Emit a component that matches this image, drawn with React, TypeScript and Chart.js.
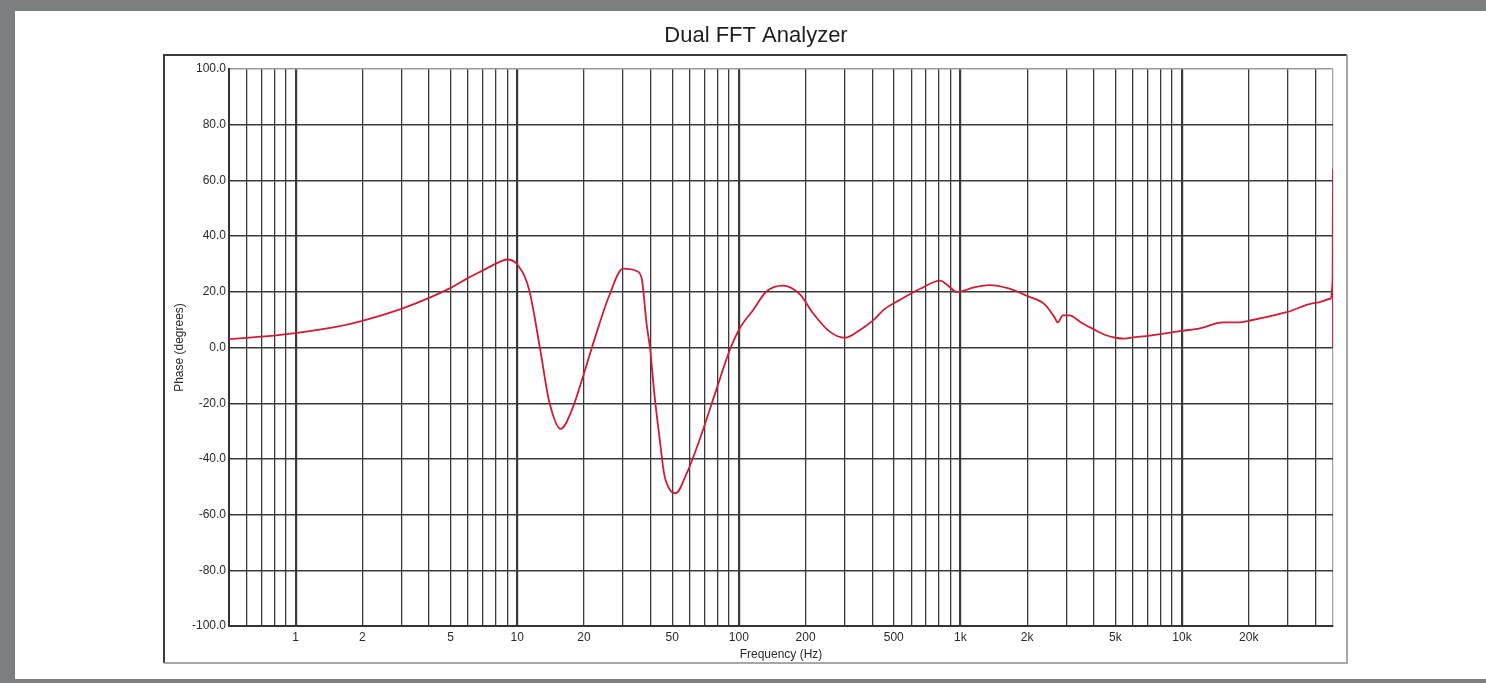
import React, { useEffect, useRef } from 'react';
import { Chart, registerables } from 'chart.js';

Chart.register(...registerables);

// Measured phase response (frequency in Hz, phase in degrees)
const freqHz = [
  0.5, 0.7, 1, 1.5, 2, 3, 4, 5, 6, 7, 8, 9, 10, 11.3, 12.7, 13.9, 15.7, 17.6, 20, 22.5, 25.9,
  30, 34.7, 36.5, 38.3, 39.8, 41.7, 44, 46, 48.6, 51.9, 58, 66.3, 79, 91, 101, 116, 133, 158,
  189, 216, 257, 301, 352, 406, 450, 533, 655, 812, 867, 968, 1150, 1350, 1650, 2000, 2400, 2650,
  2750, 2900, 3100, 3500, 4000, 4500, 5000, 5500, 6000, 7000, 10000, 12050, 15300, 18200,
  20000, 30000, 40000, 46600, 47800, 47990, 48000,
];
const phaseDeg = [
  3.0, 3.9, 5.2, 7.3, 9.6, 13.9, 17.8, 21.4, 25.0, 27.7, 30.1, 31.6, 29.8, 20.8, -0.9, -19, -29.2,
  -22.6, -9.3, 3.9, 18.3, 28.3, 27.4, 24.4, 8.7, -0.9, -17.8, -33.4, -45.4, -50.8, -52.3, -45.4,
  -33.4, -15.3, -0.9, 6.9, 13.5, 20.1, 22.2, 19, 12.3, 5.7, 3.5, 6.3, 9.9, 13.5, 17.1, 21, 24.0,
  22.6, 19.9, 21.6, 22.4, 21.2, 18.5, 15.5, 11, 9, 11.5, 11.5, 9, 6.5, 4.5, 3.5, 3.2, 3.6, 4.2, 6.0, 6.9,
  9.0, 9.0, 9.6, 12.8, 16, 17.5, 25, 64, 0,
];

// Axis definitions
const xMin = 0.5;
const xMax = 48000;
const xMantissas = [1, 2, 3, 4, 5, 6, 7, 8, 9];
const xDecades = [0.1, 1, 10, 100, 1000, 10000];
const xLabelValues = [1, 2, 5, 10, 20, 50, 100, 200, 500, 1000, 2000, 5000, 10000, 20000];
const xLabelTexts = ['1', '2', '5', '10', '20', '50', '100', '200', '500', '1k', '2k', '5k', '10k', '20k'];
const yTickValues = [-100, -80, -60, -40, -20, 0, 20, 40, 60, 80, 100];

const FONT = "Arial, 'Liberation Sans', Helvetica, sans-serif";

function buildXGrid(): number[] {
  const out: number[] = [];
  xDecades.forEach((d) => {
    xMantissas.forEach((m) => {
      const v = +(m * d).toPrecision(6);
      if (v > xMin && v < xMax) out.push(v);
    });
  });
  out.push(xMax);
  return out;
}

const isDecade = (v: number) => {
  const l = Math.log10(v);
  return Math.abs(l - Math.round(l)) < 1e-6;
};

const framePlugin = {
  id: 'pageFrame',
  beforeDraw(chart: any) {
    const ctx = chart.ctx;
    ctx.save();
    ctx.lineWidth = 2;
    ctx.strokeStyle = '#3c3c3c';
    ctx.beginPath();
    ctx.moveTo(164, 663);
    ctx.lineTo(164, 55);
    ctx.lineTo(1347, 55);
    ctx.stroke();
    ctx.strokeStyle = '#8a8a8a';
    ctx.lineWidth = 1.5;
    ctx.beginPath();
    ctx.moveTo(1347, 55);
    ctx.lineTo(1347, 663);
    ctx.lineTo(164, 663);
    ctx.stroke();
    ctx.restore();
  },
  afterDraw(chart: any) {
    const ctx = chart.ctx;
    ctx.save();
    ctx.fillStyle = '#1e1e1e';
    ctx.font = `22px ${FONT}`;
    ctx.textAlign = 'center';
    ctx.textBaseline = 'middle';
    ctx.fillText('Dual FFT Analyzer', 756, 36);
    ctx.restore();
  },
};

export default function App() {
  const canvasRef = useRef<HTMLCanvasElement | null>(null);

  useEffect(() => {
    if (!canvasRef.current) return;
    const xGrid = buildXGrid();
    const points = freqHz.map((f, i) => ({ x: f, y: phaseDeg[i] }));
    const chart = new Chart(canvasRef.current, {
      type: 'line',
      data: {
        datasets: [
          {
            label: 'Phase',
            data: points,
            borderColor: '#cf1d35',
            borderWidth: 1.8,
            pointRadius: 0,
            cubicInterpolationMode: 'monotone',
            fill: false,
          },
        ],
      },
      plugins: [framePlugin],
      options: {
        animation: false,
        responsive: false,
        maintainAspectRatio: false,
        layout: { padding: { left: 164, right: 153, top: 69, bottom: 17 } },
        plugins: {
          legend: { display: false },
          title: { display: false },
          tooltip: { enabled: false },
        },
        scales: {
          x: {
            type: 'logarithmic',
            min: xMin,
            max: xMax,
            afterBuildTicks: (scale: any) => {
              scale.ticks = xGrid.map((v) => ({ value: v }));
            },
            afterFit: (scale: any) => {
              scale.height = 40;
            },
            grid: {
              drawTicks: false,
              color: (ctx: any) => (ctx.tick && ctx.tick.value >= xMax ? '#a8a8a8' : '#3a3a3a'),
              lineWidth: (ctx: any) => (ctx.tick && isDecade(ctx.tick.value) ? 2.2 : 1.3),
            },
            border: { display: true, color: '#333', width: 2 },
            ticks: {
              autoSkip: false,
              maxRotation: 0,
              minRotation: 0,
              padding: 4,
              color: '#2a2a2a',
              font: { family: FONT, size: 12 },
              callback: (value: any) => {
                const v = Number(value);
                const i = xLabelValues.findIndex((lv) => Math.abs(lv - v) / lv < 1e-6);
                return i >= 0 ? xLabelTexts[i] : '';
              },
            },
            title: {
              display: true,
              text: 'Frequency (Hz)',
              color: '#2a2a2a',
              font: { family: FONT, size: 12 },
              padding: { top: 0, bottom: 4 },
            },
          },
          y: {
            type: 'linear',
            min: -100,
            max: 100,
            afterBuildTicks: (scale: any) => {
              scale.ticks = yTickValues.map((v) => ({ value: v }));
            },
            afterFit: (scale: any) => {
              scale.width = 65;
            },
            grid: {
              drawTicks: false,
              color: (ctx: any) => (ctx.tick && ctx.tick.value >= 100 ? '#9a9a9a' : '#3a3a3a'),
              lineWidth: 1.4,
            },
            border: { display: true, color: '#333', width: 2 },
            ticks: {
              padding: 3,
              color: '#2a2a2a',
              font: { family: FONT, size: 12 },
              callback: (value: any) => Number(value).toFixed(1),
            },
            title: {
              display: true,
              text: 'Phase (degrees)',
              color: '#2a2a2a',
              font: { family: FONT, size: 12 },
              padding: { top: 8, bottom: 0 },
            },
          },
        },
      } as any,
    });
    return () => chart.destroy();
  }, []);

  return (
    <div
      style={{
        position: 'fixed',
        left: 0,
        top: 0,
        width: 1486,
        height: 683,
        background: '#7b7f80',
        overflow: 'hidden',
      }}
    >
      <div
        style={{
          position: 'absolute',
          left: 15,
          top: 11,
          right: 0,
          bottom: 4,
          background: '#ffffff',
        }}
      />
      <canvas
        ref={canvasRef}
        width={1486}
        height={683}
        style={{ position: 'absolute', left: 0, top: 0, width: 1486, height: 683 }}
      />
    </div>
  );
}
